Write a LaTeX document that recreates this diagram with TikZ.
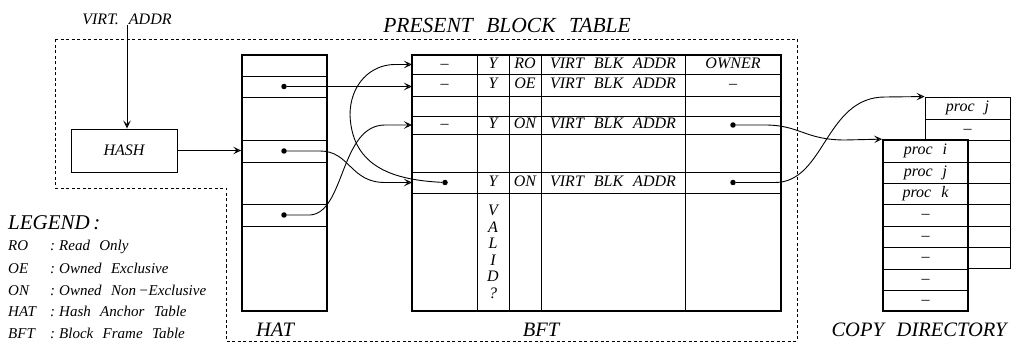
\documentclass[tikz,border=0pt]{standalone}
\usepackage{fontspec}
\setmainfont{Liberation Serif}[WordSpace=2.5]
\usetikzlibrary{arrows.meta}
\begin{document}
\begin{tikzpicture}[x=1pt,y=-1pt,
  every node/.style={font=\itshape\fontsize{16}{18}\selectfont, inner sep=0pt},
  cell/.style={text height=11pt, text depth=3pt},
  big/.style={font=\itshape\fontsize{20.5}{23}\selectfont},
  small/.style={font=\itshape\fontsize{15}{17}\selectfont, text height=10.5pt, text depth=3pt},
  boxthick/.style={draw, line width=1.7pt},
  thinline/.style={line width=0.9pt},
  conn/.style={line width=0.9pt, -{Stealth[open,length=8pt,width=7.5pt,inset=3.5pt]}},
  dotmark/.style={circle, fill, inner sep=0pt, minimum size=5.5pt},
  boundary/.style={line width=0.8pt, dash pattern=on 3pt off 2.5pt}]
\useasboundingbox (0,0) rectangle (1011,344);

% present block table boundary
\draw[boundary] (55,39) -- (797,39) -- (797,341) -- (226,341) -- (226,188) -- (55,188) -- cycle;
\node[big, font=\itshape\fontsize{21.5}{24}\selectfont] (title) at (507,25) {PRESENT BLOCK TABLE};

% virtual address and hash
\node (va) at (127,19) {VIRT.\ ADDR};
\node[draw, thinline, minimum width=106pt, minimum height=43pt] (hash) at (124,150.5) {HASH};

% HAT
\node[boxthick, minimum width=85pt, minimum height=256pt] (hat) at (284.5,183) {};
\foreach \y in {76,97,140,162,204,226} \draw[thinline] (242,\y) -- (327,\y);
\node[big] (hatlbl) at (275,330) {HAT};

% BFT
\node[boxthick, minimum width=369pt, minimum height=256pt] (bft) at (596.5,183) {};
\foreach \y in {74,96,116,134,172,193} \draw[thinline] (412,\y) -- (781,\y);
\foreach \x in {477,509,541,685} \draw[thinline] (\x,55) -- (\x,311);
\node[big] (bftlbl) at (541,330) {BFT};

\node[cell] (c11) at (444.5,64.5) {--};
\node[cell] (c12) at (493,64.5) {Y};
\node[cell] (c13) at (525,64.5) {RO};
\node[cell] (c14) at (613,64.5) {VIRT BLK ADDR};
\node[cell] (c15) at (733,64.5) {OWNER};
\node[cell] (c21) at (444.5,85) {--};
\node[cell] (c22) at (493,85) {Y};
\node[cell] (c23) at (525,85) {OE};
\node[cell] (c24) at (613,85) {VIRT BLK ADDR};
\node[cell] (c25) at (733,85) {--};
\node[cell] (c41) at (444.5,125) {--};
\node[cell] (c42) at (493,125) {Y};
\node[cell] (c43) at (525,125) {ON};
\node[cell] (c44) at (613,125) {VIRT BLK ADDR};
\node[cell] (c62) at (493,182.5) {Y};
\node[cell] (c63) at (525,182.5) {ON};
\node[cell] (c64) at (613,182.5) {VIRT BLK ADDR};
\foreach \l [count=\i] in {V,A,L,I,D,?}
  \node[cell] (valid\i) at (493,195.5+16.5*\i) {\l};

% copy directory
\node[draw, thinline, minimum width=85pt, minimum height=171pt] (cdb) at (967.5,182.5) {};
\foreach \y in {119,140,162,183,204,226,247} \draw[thinline] (925,\y) -- (1010,\y);
\node[cell] (cb1) at (967.5,108) {proc j};
\node[cell] (cb2) at (967.5,129.5) {--};
\node[boxthick, fill=white, minimum width=85pt, minimum height=171pt] (cdf) at (925.5,225.5) {};
\foreach \y in {162,183,204,226,247,269,290} \draw[thinline] (883,\y) -- (968,\y);
\node[cell] (cf1) at (925.5,151) {proc i};
\node[cell] (cf2) at (925.5,172.5) {proc j};
\node[cell] (cf3) at (925.5,193.5) {proc k};
\foreach \y [count=\i] in {215,236.5,258,279.5,300.5}
  \node[cell] (cfd\i) at (925.5,\y) {--};
\node[big] (cdlbl) at (919,330) {COPY DIRECTORY};

% dots
\node[dotmark] (h1) at (284,86.5) {};
\node[dotmark] (h2) at (284,151) {};
\node[dotmark] (h3) at (284,215) {};
\node[dotmark] (b6) at (445,182.5) {};
\node[dotmark] (o4) at (733,125) {};
\node[dotmark] (o6) at (733,182.5) {};

\coordinate (r1) at (412,64.5);
\coordinate (r2) at (412,86.5);
\coordinate (r4) at (412,125);
\coordinate (r6) at (412,182.5);

% connectors
\draw[conn] (va.south) -- (va.south |- hash.north);
\draw[conn] (hash.east) -- (hash.east -| hat.west);
\draw[conn] (h1) -- (r2);
\draw[conn] (h2) -- (320,151) .. controls (350,151) and (350,182.5) .. (385,182.5) -- (r6);
\draw[conn] (h3) -- (310,215) .. controls (345,213) and (340,125) .. (385,125) -- (r4);
\draw[conn] (b6) .. controls (395,180) and (352,168) .. (350,115) .. controls (350,85) and (370,64.5) .. (395,64.5) -- (r1);
\draw[conn] (o4) -- (765,125) .. controls (800,125) and (805,140) .. (845,140) -- (cdf.north west);
\draw[conn] (o6) -- (775,182.5) .. controls (825,182.5) and (825,97) .. (885,97) -- (cdb.north west);

% legend
\node[big, font=\itshape\fontsize{21}{24}\selectfont, anchor=west] (leg) at (8,223) {LEGEND\thinspace:};
\foreach \a/\d/\y [count=\i] in {RO/Read Only/247, OE/Owned Exclusive/270, ON/Owned Non\thinspace−Exclusive/292, HAT/Hash Anchor Table/313, BFT/Block Frame Table/335} {
  \node[small, anchor=west] (la\i) at (8,\y) {\a};
  \node[small, anchor=west] (lc\i) at (50,\y) {:};
  \node[small, anchor=west] (ld\i) at (59,\y) {\d};
}
\end{tikzpicture}
\end{document}
